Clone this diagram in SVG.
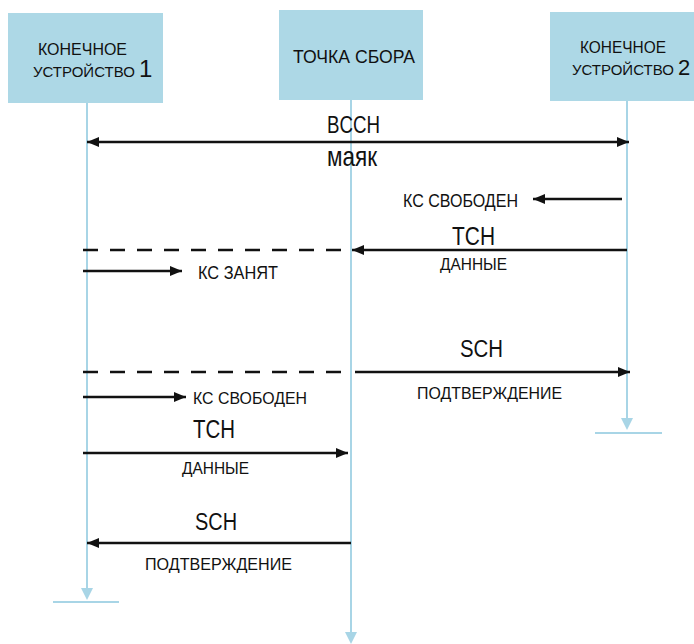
<svg xmlns="http://www.w3.org/2000/svg" width="694" height="644" viewBox="0 0 694 644">
<style>
.box{fill:#add8e6;stroke:none}
.life{stroke:#a8d5e6;stroke-width:2;fill:none}
.lifehead{fill:#a8d5e6}
.msg{stroke:#111;stroke-width:2.5;fill:none}
.dash{stroke:#111;stroke-width:2.5;stroke-dasharray:15 12;fill:none}
text{font-family:"Liberation Sans","DejaVu Sans",sans-serif;fill:#111}
</style>
<defs>
<marker id="ah" viewBox="0 0 12 10" refX="12" refY="5" markerWidth="12" markerHeight="10" markerUnits="userSpaceOnUse" orient="auto-start-reverse">
<path d="M0,0 L12,5 L0,10 z" fill="#111"/>
</marker>
</defs>
<g id="node-device1">
<rect class="box" x="8" y="13" width="155" height="90"/>
<text x="38" y="55" font-size="16" textLength="89" lengthAdjust="spacingAndGlyphs">КОНЕЧНОЕ</text>
<text x="33" y="77" font-size="15">УСТРОЙСТВО <tspan font-size="24">1</tspan></text>
</g>
<g id="node-gateway">
<rect class="box" x="279" y="10" width="144" height="90"/>
<text x="293" y="63" font-size="18" textLength="122" lengthAdjust="spacingAndGlyphs">ТОЧКА СБОРА</text>
</g>
<g id="node-device2">
<rect class="box" x="550" y="12" width="160" height="89"/>
<text x="580" y="53" font-size="16" textLength="86" lengthAdjust="spacingAndGlyphs">КОНЕЧНОЕ</text>
<text x="572" y="75" font-size="15">УСТРОЙСТВО <tspan font-size="22">2</tspan></text>
</g>
<g id="lifelines">
<line class="life" x1="87" y1="103" x2="87" y2="590"/>
<path class="lifehead" d="M81,588 L93,588 L87,600 z"/>
<line class="life" x1="53" y1="602" x2="119" y2="602"/>
<line class="life" x1="351" y1="100" x2="351" y2="634"/>
<path class="lifehead" d="M345,632 L357,632 L351,644 z"/>
<line class="life" x1="627" y1="101" x2="627" y2="420"/>
<path class="lifehead" d="M621,418 L633,418 L627,430 z"/>
<line class="life" x1="595" y1="433" x2="662" y2="433"/>
</g>
<g id="connectors">
<line class="msg" x1="87" y1="142" x2="629" y2="142" marker-start="url(#ah)" marker-end="url(#ah)"/>
<line class="msg" x1="622" y1="199" x2="533" y2="199" marker-end="url(#ah)"/>
<line class="dash" x1="83" y1="250" x2="350" y2="250"/>
<line class="msg" x1="627" y1="250" x2="352" y2="250" marker-end="url(#ah)"/>
<line class="msg" x1="83" y1="271" x2="182" y2="271" marker-end="url(#ah)"/>
<line class="dash" x1="83" y1="372" x2="350" y2="372"/>
<line class="msg" x1="355" y1="372" x2="630" y2="372" marker-end="url(#ah)"/>
<line class="msg" x1="83" y1="397" x2="186" y2="397" marker-end="url(#ah)"/>
<line class="msg" x1="83" y1="453" x2="348" y2="453" marker-end="url(#ah)"/>
<line class="msg" x1="351" y1="543" x2="87" y2="543" marker-end="url(#ah)"/>
</g>
<g id="labels">
<text x="327" y="133" font-size="24" textLength="53" lengthAdjust="spacingAndGlyphs">BCCH</text>
<text x="327" y="166" font-size="28" textLength="50" lengthAdjust="spacingAndGlyphs">маяк</text>
<text x="403" y="207" font-size="18" textLength="115" lengthAdjust="spacingAndGlyphs">КС СВОБОДЕН</text>
<text x="452" y="245" font-size="25" textLength="43" lengthAdjust="spacingAndGlyphs">TCH</text>
<text x="440" y="270" font-size="16" textLength="67" lengthAdjust="spacingAndGlyphs">ДАННЫЕ</text>
<text x="198" y="279" font-size="18" textLength="80" lengthAdjust="spacingAndGlyphs">КС ЗАНЯТ</text>
<text x="460" y="357" font-size="23" textLength="43" lengthAdjust="spacingAndGlyphs">SCH</text>
<text x="417" y="399" font-size="16" textLength="145" lengthAdjust="spacingAndGlyphs">ПОДТВЕРЖДЕНИЕ</text>
<text x="193" y="404" font-size="17" textLength="114" lengthAdjust="spacingAndGlyphs">КС СВОБОДЕН</text>
<text x="193" y="438" font-size="25" textLength="42" lengthAdjust="spacingAndGlyphs">TCH</text>
<text x="182" y="474" font-size="16" textLength="67" lengthAdjust="spacingAndGlyphs">ДАННЫЕ</text>
<text x="195" y="530" font-size="23" textLength="42" lengthAdjust="spacingAndGlyphs">SCH</text>
<text x="145" y="570" font-size="16" textLength="147" lengthAdjust="spacingAndGlyphs">ПОДТВЕРЖДЕНИЕ</text>
</g>
</svg>
